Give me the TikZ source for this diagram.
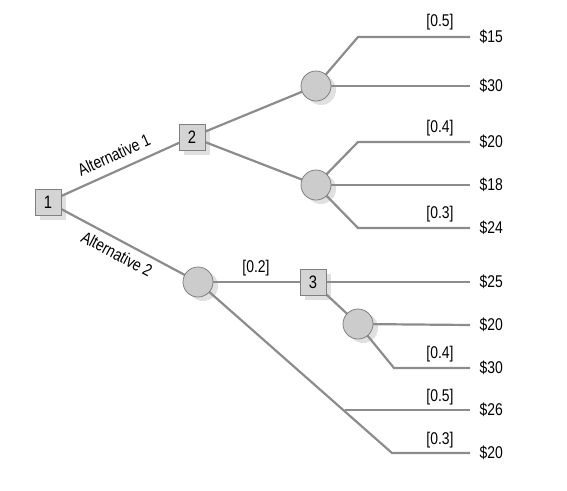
\documentclass[tikz,border=0pt]{standalone}
\usepackage{fontspec}
\setmainfont{Liberation Sans}[FakeStretch=0.82]
\begin{document}
\begin{tikzpicture}[x=1pt,y=-1pt,
  ln/.style={draw=black!45,line width=2.2pt},
  dec/.style={draw=black!50,fill=black!17,line width=0.8pt,minimum size=26pt,inner sep=0pt,font=\fontsize{18}{18}\selectfont},
  chn/.style={circle,draw=black!50,fill=black!20,line width=0.8pt,minimum size=30pt,inner sep=0pt},
  val/.style={anchor=west,font=\fontsize{17}{17}\selectfont},
  pr/.style={font=\fontsize{17}{17}\selectfont,inner sep=1pt}]
\useasboundingbox (0,0) rectangle (567,490);
% shadows
\fill[black!12] (40,194) rectangle (66,220);
\fill[black!12] (184,129) rectangle (210,155);
\fill[black!12] (305,274) rectangle (331,300);
\foreach \p in {(321,90),(321,189),(203,286),(363,328)} \fill[black!12] \p circle (15);
% coordinates
\coordinate (a1) at (358,37); \coordinate (e15) at (470,37);
\coordinate (e30) at (470,86);
\coordinate (b1) at (358,142); \coordinate (e20) at (470,142);
\coordinate (e18) at (470,185);
\coordinate (b3) at (358,228); \coordinate (e24) at (470,228);
\coordinate (e25) at (470,282);
\coordinate (e20b) at (470,325);
\coordinate (d2) at (394,368); \coordinate (e30b) at (470,368);
\coordinate (c1) at (345,410); \coordinate (e26) at (470,410);
\coordinate (c2) at (392,453); \coordinate (e20c) at (470,453);
% lines
\draw[ln] (48,202) -- (192,137);
\draw[ln] (48,202) -- (198,282);
\draw[ln] (192,137) -- (316,86);
\draw[ln] (192,137) -- (316,185);
\draw[ln] (316,86) -- (a1) -- (e15);
\draw[ln] (316,86) -- (e30);
\draw[ln] (316,185) -- (b1) -- (e20);
\draw[ln] (316,185) -- (e18);
\draw[ln] (316,185) -- (b3) -- (e24);
\draw[ln] (198,282) -- (e25);
\draw[ln] (313,282) -- (358,324) -- (e20b);
\draw[ln] (358,324) -- (d2) -- (e30b);
\draw[ln] (198,282) -- (c2) -- (e20c);
\draw[ln] (c1) -- (e26);
% nodes
\node[dec] (n1) at (48,202) {1};
\node[dec] (n2) at (192,137) {2};
\node[chn] (cA) at (316,86) {};
\node[chn] (cB) at (316,185) {};
\node[chn] (cC) at (198,282) {};
\node[dec] (n3) at (313,282) {3};
\node[chn] (cD) at (358,324) {};
% values
\node[val] (v1) at (476,37) {\$15};
\node[val] (v2) at (476,86) {\$30};
\node[val] (v3) at (476,142) {\$20};
\node[val] (v4) at (476,185) {\$18};
\node[val] (v5) at (476,228) {\$24};
\node[val] (v6) at (476,282) {\$25};
\node[val] (v7) at (476,325) {\$20};
\node[val] (v8) at (476,368) {\$30};
\node[val] (v9) at (476,410) {\$26};
\node[val] (v10) at (476,453) {\$20};
% probabilities
\node[pr] (p1) at (440,22) {[0.5]};
\node[pr] (p2) at (440,128) {[0.4]};
\node[pr] (p3) at (440,214) {[0.3]};
\node[pr] (p4) at (256,268) {[0.2]};
\node[pr] (p5) at (440,354) {[0.4]};
\node[pr] (p6) at (440,397) {[0.5]};
\node[pr] (p7) at (440,440) {[0.3]};
% alternatives
\node[pr,rotate=24.3] (alt1) at (114,155) {Alternative 1};
\node[pr,rotate=-28] (alt2) at (117,254) {Alternative 2};
\end{tikzpicture}
\end{document}
